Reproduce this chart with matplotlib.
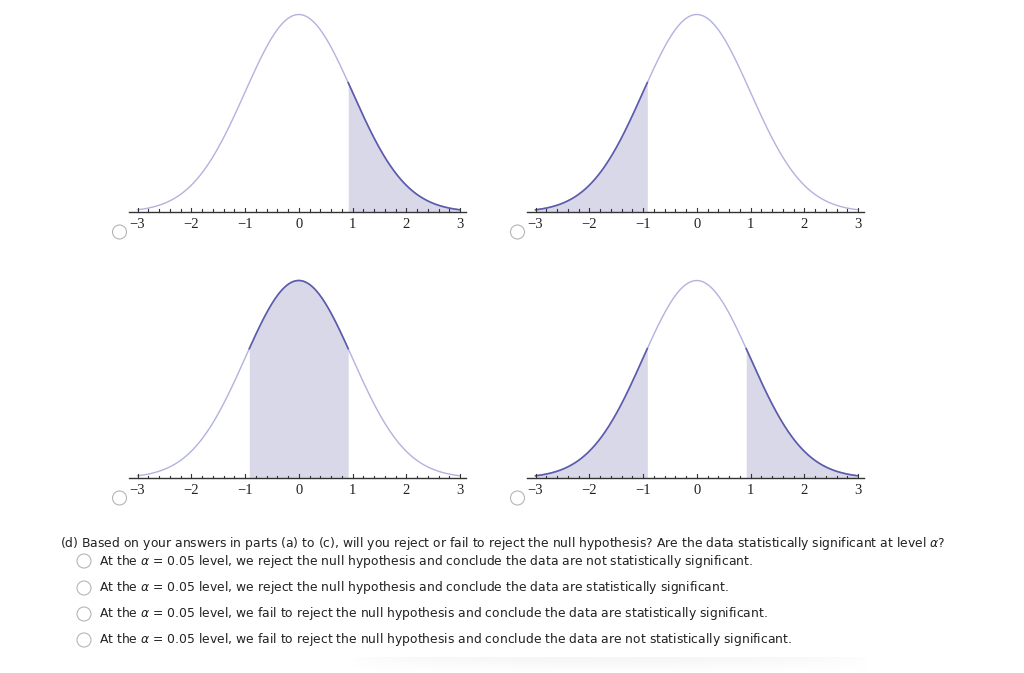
import numpy as np
import matplotlib.pyplot as plt
from matplotlib.patches import Circle

W, H = 1024, 673

# shaded regions for the four panels (lower, upper bounds on z)
crit = 0.92
panel_regions = [
    [(crit, 3)],
    [(-3, -crit)],
    [(-crit, crit)],
    [(-3, -crit), (crit, 3)],
]
# pixel position of z = -3 and baseline (from top) for each panel
panel_x0 = [137.5, 535.5, 137.5, 535.5]
panel_base = [212, 212, 478, 478]
tick_vals = [-3, -2, -1, 0, 1, 2, 3]
tick_labels = ["\u22123", "\u22122", "\u22121", "0", "1", "2", "3"]

question = ("(d) Based on your answers in parts (a) to (c), will you reject or fail to reject "
            "the null hypothesis? Are the data statistically significant at level $\\alpha$?")
options = [
    "At the $\\alpha$ = 0.05 level, we reject the null hypothesis and conclude the data are not statistically significant.",
    "At the $\\alpha$ = 0.05 level, we reject the null hypothesis and conclude the data are statistically significant.",
    "At the $\\alpha$ = 0.05 level, we fail to reject the null hypothesis and conclude the data are statistically significant.",
    "At the $\\alpha$ = 0.05 level, we fail to reject the null hypothesis and conclude the data are not statistically significant.",
]
option_y = [561, 588, 614, 640]

light = "#b2b2de"
dark = "#5c5cac"
fill = "#d8d8e9"

fig = plt.figure(figsize=(W / 100, H / 100), dpi=100)

px_unit = 322.5 / 6.0
py_unit = 197.5 / 0.39894
xlo, xhi = -3.3, 3.3
ylo, yhi = -0.035, 0.42

z = np.linspace(-3, 3, 601)
pdf = np.exp(-z ** 2 / 2) / np.sqrt(2 * np.pi)

for i in range(4):
    left = panel_x0[i] + (xlo + 3) * px_unit
    width = (xhi - xlo) * px_unit
    base = H - panel_base[i]
    bottom = base + ylo * py_unit
    height = (yhi - ylo) * py_unit
    ax = fig.add_axes([left / W, bottom / H, width / W, height / H])
    ax.set_xlim(xlo, xhi)
    ax.set_ylim(ylo, yhi)
    ax.axis("off")

    ax.plot(z, pdf, color=light, lw=1.0)
    for a, b in panel_regions[i]:
        zz = np.linspace(a, b, 300)
        pp = np.exp(-zz ** 2 / 2) / np.sqrt(2 * np.pi)
        ax.fill_between(zz, 0, pp, color=fill, lw=0)
        ax.plot(zz, pp, color=dark, lw=1.2)

    # axis line with ticks
    ax.plot([-3.15, 3.12], [0, 0], color="#333333", lw=1.0)
    for t in np.arange(-3, 3.01, 0.2):
        major = abs(t - round(t)) < 1e-6
        h = (4.0 if major else 2.5) / py_unit
        ax.plot([t, t], [0, h], color="#333333", lw=0.8)
    for t, lab in zip(tick_vals, tick_labels):
        ax.text(t, -13 / py_unit, lab, ha="center", va="center",
                fontsize=10.5, family="Liberation Serif", color="#222222")

    # radio circle
    cx = panel_x0[i] - 18
    cy = panel_base[i] + 20
    fig.add_artist(Circle((cx, H - cy), 7, transform=None, fill=False,
                          edgecolor="#b5b5b5", lw=0.8))

fig.text(60 / W, 1 - 543 / H, question, fontsize=8.95, family="DejaVu Sans",
         va="center", ha="left", color="#222222")
for y, txt in zip(option_y, options):
    fig.text(99 / W, 1 - y / H, txt, fontsize=8.95, family="DejaVu Sans",
             va="center", ha="left", color="#222222")
    fig.add_artist(Circle((84, H - y), 7, transform=None, fill=False,
                          edgecolor="#b5b5b5", lw=0.8))

# faint shadow at the bottom edge
sh = fig.add_axes([350 / W, 0, 520 / W, 16 / H])
sh.axis("off")
gy = np.linspace(0, 1, 16)[:, None]
gx = np.sin(np.linspace(0, np.pi, 200))[None, :] ** 0.5
sh.imshow(gy * gx, cmap="Greys", vmin=0, vmax=12, aspect="auto", origin="lower")

fig.savefig("out.png", dpi=100)
